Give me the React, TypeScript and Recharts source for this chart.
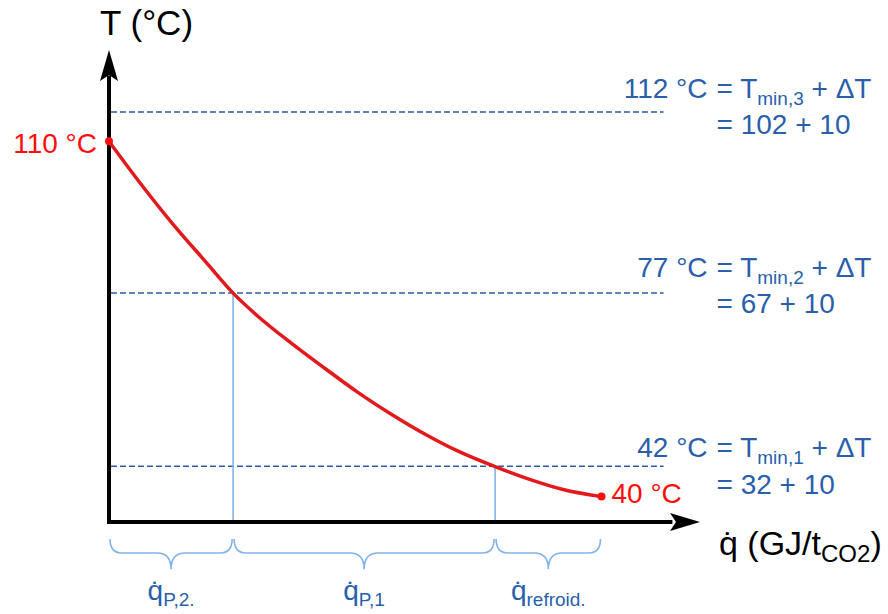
import React from 'react'
import { LineChart, Line, XAxis, YAxis, ReferenceLine, ReferenceDot, ReferenceArea } from 'recharts'

// heat duty (schematic units along the q axis) and temperature of the stream
const heatDuty = [0, 0.3, 0.64, 0.98, 1.26, 1.52, 1.86, 2.19, 2.53, 2.87, 3.21, 3.55, 3.92, 4.27, 4.61, 5.0]
const gasTemp = [110, 102.2, 93.9, 86.3, 80.1, 75.4, 70.1, 65.3, 60.5, 56.2, 52.3, 48.9, 45.9, 43.4, 41.4, 40]

// the source sketch is not to scale: these are the heights the levels are drawn at
const levelHeights = [115.8, 80.1, 46.0]
const levelTemps = ['112', '77', '42']
const levelTmin = ['102', '67', '32']
const levelIndex = ['3', '2', '1']
const deltaT = '10'

const splitDuty = [0, 1.26, 3.92, 5.0]
const segmentNames = ['P,2.', 'P,1', 'refroid.']

const data = heatDuty.map((q, i) => ({ q, T: gasTemp[i] }))

const FONT = '"Liberation Sans", Arial, Helvetica, sans-serif'
const BLUE = '#2a5fab'
const DASH_BLUE = '#2a5ca6'
const LIGHT_BLUE = '#80b3eb'
const RED = '#ff0d0d'
const CURVE_RED = '#e31a1c'

const X_MAX = 6
const Y_MIN = 35
const Y_MAX = 128
const LEVEL_END = 5.63

// baseline offsets of the two text rows above / below each dashed level
const labelRows = [
  { up: 14, down: 22 },
  { up: 16, down: 20 },
  { up: 9, down: 28 },
]

function ArrowUp({ cx, cy }: any) {
  return (
    <g>
      <path d={`M${cx},${cy} L${cx + 9},${cy + 31} L${cx},${cy + 25} L${cx - 9},${cy + 31} Z`} fill="#000" />
      <text x={cx - 9} y={cy - 15} fontSize={35} fontFamily={FONT} fill="#000">T (°C)</text>
    </g>
  )
}

function ArrowRight({ cx, cy }: any) {
  return (
    <g>
      <path d={`M${cx},${cy} L${cx - 30},${cy - 9} L${cx - 24},${cy} L${cx - 30},${cy + 9} Z`} fill="#000" />
      <text x={cx + 19} y={cy + 33} fontSize={34} fontFamily={FONT} fill="#000">
        {'q\u0307 (GJ/t'}
        <tspan fontSize={24} dy={7}>CO2</tspan>
        <tspan dy={-7}>)</tspan>
      </text>
    </g>
  )
}

function levelLabel(i: number) {
  return ({ cx, cy }: any) => (
    <g fontFamily={FONT} fill={BLUE}>
      <text x={cx + 44} y={cy - labelRows[i].up} fontSize={28} textAnchor="end">{`${levelTemps[i]} °C`}</text>
      <text x={cx + 53} y={cy - labelRows[i].up} fontSize={28}>
        {'= T'}
        <tspan fontSize={19} dy={7}>{`min,${levelIndex[i]}`}</tspan>
        <tspan dy={-7}>{' + ΔT'}</tspan>
      </text>
      <text x={cx + 53} y={cy + labelRows[i].down} fontSize={28}>{`= ${levelTmin[i]} + ${deltaT}`}</text>
    </g>
  )
}

function brace(name: string) {
  return ({ x, y, width, height }: any) => {
    const x1 = x + 1
    const x2 = x + width - 1
    const xm = (x1 + x2) / 2
    const y0 = y
    const y1 = y + 14
    const y2 = y + height
    const d = `M${x1},${y0} Q${x1},${y1} ${x1 + 12},${y1} L${xm - 14},${y1} Q${xm},${y1} ${xm},${y2} ` +
      `Q${xm},${y1} ${xm + 14},${y1} L${x2 - 12},${y1} Q${x2},${y1} ${x2},${y0}`
    return (
      <g>
        <path d={d} fill="none" stroke={LIGHT_BLUE} strokeWidth={1.6} />
        <text x={xm} y={y2 + 31} textAnchor="middle" fontFamily={FONT} fill={BLUE} fontSize={28}>
          {'q\u0307'}
          <tspan fontSize={19} dy={6}>{name}</tspan>
        </text>
      </g>
    )
  }
}

function redLabel(text: string, anchor: 'start' | 'end', dx: number, dy: number) {
  return ({ cx, cy }: any) => (
    <g>
      <circle cx={cx} cy={cy} r={4} fill={RED} />
      <text x={cx + dx} y={cy + dy} textAnchor={anchor} fontSize={28} fontFamily={FONT} fill={RED}>{text}</text>
    </g>
  )
}

export default function App() {
  return (
    <div style={{ position: 'absolute', left: 0, top: 0, background: '#fff' }}>
      <LineChart width={888} height={614} data={data} margin={{ top: 50, right: 188, bottom: 92, left: 109 }}>
        <XAxis dataKey="q" type="number" domain={[0, X_MAX]} allowDataOverflow hide />
        <YAxis type="number" domain={[Y_MIN, Y_MAX]} allowDataOverflow hide />

        {levelHeights.map((h, i) => (
          <ReferenceLine
            key={`lvl${i}`}
            segment={[{ x: 0.02, y: h }, { x: LEVEL_END, y: h }]}
            stroke={DASH_BLUE}
            strokeWidth={1.5}
            strokeDasharray="6 3"
          />
        ))}
        {[1, 2].map((k) => (
          <ReferenceLine
            key={`split${k}`}
            segment={[{ x: splitDuty[k], y: Y_MIN }, { x: splitDuty[k], y: levelHeights[k] }]}
            stroke={LIGHT_BLUE}
            strokeWidth={1.6}
          />
        ))}
        {segmentNames.map((name, i) => (
          <ReferenceArea
            key={`brace${i}`}
            x1={splitDuty[i]}
            x2={splitDuty[i + 1]}
            y1={25.7}
            y2={31.65}
            ifOverflow="visible"
            shape={brace(name)}
          />
        ))}

        <ReferenceLine segment={[{ x: 0, y: Y_MIN }, { x: 0, y: 123 }]} stroke="#000" strokeWidth={4} ifOverflow="visible" />
        <ReferenceLine segment={[{ x: -0.02, y: Y_MIN }, { x: 5.72, y: Y_MIN }]} stroke="#000" strokeWidth={4} ifOverflow="visible" />
        <ReferenceDot x={0} y={Y_MAX} ifOverflow="visible" shape={ArrowUp} />
        <ReferenceDot x={X_MAX} y={Y_MIN} ifOverflow="visible" shape={ArrowRight} />

        <Line
          type="monotone"
          dataKey="T"
          stroke={CURVE_RED}
          strokeWidth={3.5}
          dot={false}
          isAnimationActive={false}
        />

        {levelHeights.map((h, i) => (
          <ReferenceDot key={`lbl${i}`} x={LEVEL_END} y={h} ifOverflow="visible" shape={levelLabel(i)} />
        ))}
        <ReferenceDot
          x={heatDuty[0]}
          y={gasTemp[0]}
          ifOverflow="visible"
          shape={redLabel(`${gasTemp[0]} °C`, 'end', -12, 12)}
        />
        <ReferenceDot
          x={heatDuty[heatDuty.length - 1]}
          y={gasTemp[gasTemp.length - 1]}
          ifOverflow="visible"
          shape={redLabel(`${gasTemp[gasTemp.length - 1]} °C`, 'start', 10, 6)}
        />
      </LineChart>
    </div>
  )
}
